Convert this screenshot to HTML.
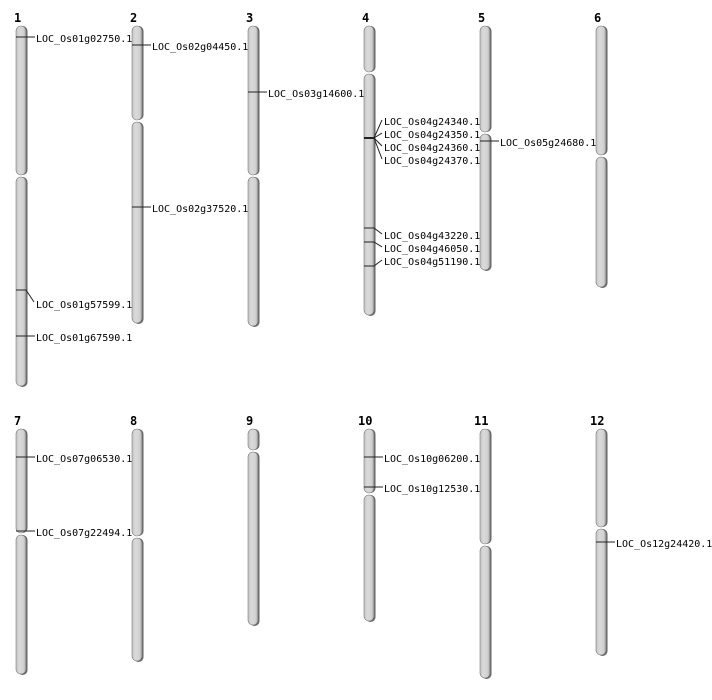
<!DOCTYPE html>
<html><head><meta charset="utf-8"><style>
html,body{margin:0;padding:0;background:#fff;}
svg{display:block;}
text{font-family:"DejaVu Sans Mono","Liberation Mono",monospace;font-size:10px;fill:#000;}
.n{font-weight:bold;font-size:12px;}
.c{fill:url(#g);stroke:#777;stroke-width:0.6;}
.s{fill:#666;}
.m{stroke:#222;stroke-width:1;fill:none;}
</style></head><body>
<svg width="712" height="700" viewBox="0 0 712 700" xmlns="http://www.w3.org/2000/svg">
<defs><linearGradient id="g" x1="0" x2="1" y1="0" y2="0">
<stop offset="0" stop-color="#c4c4c4"/><stop offset="0.35" stop-color="#dadada"/><stop offset="0.75" stop-color="#d2d2d2"/><stop offset="1" stop-color="#a8a8a8"/></linearGradient></defs>

<!-- chr labels -->
<text class="n" x="14" y="22">1</text><text class="n" x="130" y="22">2</text><text class="n" x="246" y="22">3</text><text class="n" x="362" y="22">4</text><text class="n" x="478" y="22">5</text><text class="n" x="594" y="22">6</text>
<text class="n" x="14" y="425">7</text><text class="n" x="130" y="425">8</text><text class="n" x="246" y="425">9</text><text class="n" x="358" y="425">10</text><text class="n" x="474" y="425">11</text><text class="n" x="590" y="425">12</text>

<!-- shadows -->
<g class="s">
<rect x="17.5" y="26" width="10" height="149" rx="5"/><rect x="17.5" y="177" width="10" height="210" rx="5"/>
<rect x="133.5" y="26" width="10" height="94" rx="5"/><rect x="133.5" y="122" width="10" height="202" rx="5"/>
<rect x="249.5" y="26" width="10" height="149" rx="5"/><rect x="249.5" y="177" width="10" height="150" rx="5"/>
<rect x="365.5" y="26" width="10" height="46" rx="5"/><rect x="365.5" y="74" width="10" height="242" rx="5"/>
<rect x="481.5" y="26" width="10" height="106" rx="5"/><rect x="481.5" y="134" width="10" height="137" rx="5"/>
<rect x="597.5" y="26" width="10" height="129" rx="5"/><rect x="597.5" y="157" width="10" height="131" rx="5"/>
<rect x="17.5" y="429" width="10" height="104" rx="5"/><rect x="17.5" y="535" width="10" height="140" rx="5"/>
<rect x="133.5" y="429" width="10" height="107" rx="5"/><rect x="133.5" y="538" width="10" height="124" rx="5"/>
<rect x="249.5" y="429" width="10" height="21" rx="5"/><rect x="249.5" y="452" width="10" height="174" rx="5"/>
<rect x="365.5" y="429" width="10" height="64" rx="5"/><rect x="365.5" y="495" width="10" height="127" rx="5"/>
<rect x="481.5" y="429" width="10" height="115" rx="5"/><rect x="481.5" y="546" width="10" height="133" rx="5"/>
<rect x="597.5" y="429" width="10" height="98" rx="5"/><rect x="597.5" y="529" width="10" height="127" rx="5"/>
</g>
<g class="c">
<rect x="16" y="26" width="10" height="149" rx="5"/><rect x="16" y="177" width="10" height="209" rx="5"/>
<rect x="132" y="26" width="10" height="94" rx="5"/><rect x="132" y="122" width="10" height="201" rx="5"/>
<rect x="248" y="26" width="10" height="149" rx="5"/><rect x="248" y="177" width="10" height="149" rx="5"/>
<rect x="364" y="26" width="10" height="46" rx="5"/><rect x="364" y="74" width="10" height="241" rx="5"/>
<rect x="480" y="26" width="10" height="106" rx="5"/><rect x="480" y="134" width="10" height="136" rx="5"/>
<rect x="596" y="26" width="10" height="129" rx="5"/><rect x="596" y="157" width="10" height="130" rx="5"/>
<rect x="16" y="429" width="10" height="104" rx="5"/><rect x="16" y="535" width="10" height="139" rx="5"/>
<rect x="132" y="429" width="10" height="107" rx="5"/><rect x="132" y="538" width="10" height="123" rx="5"/>
<rect x="248" y="429" width="10" height="21" rx="5"/><rect x="248" y="452" width="10" height="173" rx="5"/>
<rect x="364" y="429" width="10" height="64" rx="5"/><rect x="364" y="495" width="10" height="126" rx="5"/>
<rect x="480" y="429" width="10" height="115" rx="5"/><rect x="480" y="546" width="10" height="132" rx="5"/>
<rect x="596" y="429" width="10" height="98" rx="5"/><rect x="596" y="529" width="10" height="126" rx="5"/>
</g>

<!-- markers -->
<g class="m">
<path d="M16 37H35"/>
<path d="M16 290H26L34 302"/>
<path d="M16 336H35"/>
<path d="M132 45H151"/>
<path d="M132 207H151"/>
<path d="M248 92H267"/>
<path d="M364 138H374" stroke-width="2"/>
<path d="M374 138L382 120M374 138L382 133M374 138L382 146M374 138L382 159"/>
<path d="M364 228H374L382 234M364 242H374L382 247M364 266H374L382 260"/>
<path d="M480 141H499"/>
<path d="M16 457H35"/>
<path d="M16 531H35"/>
<path d="M364 457H383"/>
<path d="M364 487H383"/>
<path d="M596 542H615"/>
</g>

<text x="36" y="42">LOC_Os01g02750.1</text>
<text x="36" y="308">LOC_Os01g57599.1</text>
<text x="36" y="341">LOC_Os01g67590.1</text>
<text x="152" y="50">LOC_Os02g04450.1</text>
<text x="152" y="212">LOC_Os02g37520.1</text>
<text x="268" y="97">LOC_Os03g14600.1</text>
<text x="384" y="125">LOC_Os04g24340.1</text>
<text x="384" y="138">LOC_Os04g24350.1</text>
<text x="384" y="151">LOC_Os04g24360.1</text>
<text x="384" y="164">LOC_Os04g24370.1</text>
<text x="384" y="239">LOC_Os04g43220.1</text>
<text x="384" y="252">LOC_Os04g46050.1</text>
<text x="384" y="265">LOC_Os04g51190.1</text>
<text x="500" y="146">LOC_Os05g24680.1</text>
<text x="36" y="462">LOC_Os07g06530.1</text>
<text x="36" y="536">LOC_Os07g22494.1</text>
<text x="384" y="462">LOC_Os10g06200.1</text>
<text x="384" y="492">LOC_Os10g12530.1</text>
<text x="616" y="547">LOC_Os12g24420.1</text>
</svg>
</body></html>
